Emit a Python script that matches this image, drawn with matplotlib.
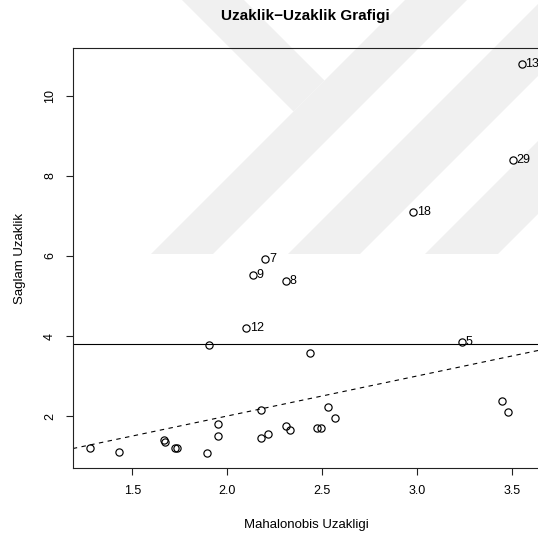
import matplotlib
matplotlib.use("Agg")
import matplotlib.pyplot as plt
from matplotlib.patches import Polygon
import numpy as np

plt.rcParams["font.family"] = ["Liberation Sans", "DejaVu Sans"]

# classical (Mahalanobis) vs robust distances, observations 1..30
mahal = [1.667, 1.895, 2.179, 1.428, 3.237, 1.951, 2.202, 2.311, 2.136, 1.738,
         2.473, 2.102, 3.553, 1.278, 2.533, 1.951, 3.449, 2.982, 1.672, 2.213,
         1.907, 2.309, 2.571, 1.727, 2.497, 2.177, 2.437, 3.481, 3.504, 2.334]
robust = [1.39, 1.08, 2.16, 1.09, 3.84, 1.80, 5.93, 5.38, 5.53, 1.19,
          1.70, 4.21, 10.80, 1.21, 2.22, 1.50, 2.37, 7.10, 1.34, 1.54,
          3.77, 1.75, 1.96, 1.19, 1.70, 1.44, 3.58, 2.11, 8.40, 1.66]
obs_ids = list(range(1, 31))
cutoff = 3.7947  # sqrt(qchisq(0.975, 6))

x_ticks = [1.5, 2.0, 2.5, 3.0, 3.5]
y_ticks = [2, 4, 6, 8, 10]

W, H = 538, 535
fig = plt.figure(figsize=(W / 100, H / 100), dpi=100)

# faint background watermark, drawn in pixel coordinates
bg = fig.add_axes([0, 0, 1, 1], zorder=0)
bg.set_xlim(0, W)
bg.set_ylim(H, 0)
bg.axis("off")
shapes = [
    [(182, 0), (244, 0), (324.5, 80.5), (293.5, 111.5)],
    [(151, 254), (213, 254), (467, 0), (405, 0)],
    [(288, 254), (360, 254), (614, 0), (542, 0)],
    [(425, 254), (498, 254), (752, 0), (679, 0)],
]
for pts in shapes:
    bg.add_patch(Polygon(pts, closed=True, facecolor="#f0f0f0", edgecolor="none"))

# plot region runs slightly past the right edge of the canvas
ax = fig.add_axes([72.8 / W, 1 - 468.4 / H, 466.3 / W, 420.0 / H], zorder=1)
ax.set_facecolor("none")

x = np.array(mahal)
y = np.array(robust)
# R-style 4% padding of the data range
xpad = 0.04 * (x.max() - x.min())
ypad = 0.04 * (y.max() - y.min())
ax.set_xlim(x.min() - xpad, x.max() + xpad)
ax.set_ylim(y.min() - ypad, y.max() + ypad)

ax.plot(x, y, linestyle="none", marker="o", markersize=5.2,
        markerfacecolor="none", markeredgecolor="black", markeredgewidth=0.85)

for xi, yi, oid in zip(x, y, obs_ids):
    if yi > cutoff:
        ax.annotate(str(oid), (xi, yi), xytext=(2.6, 0), textcoords="offset points",
                    ha="left", va="center", fontsize=9, annotation_clip=False)

ax.axhline(cutoff, color="black", linewidth=0.8)
xs = np.array(ax.get_xlim())
ax.plot(xs, xs, color="black", linewidth=0.8, linestyle=(0, (4, 4)))

for s in ax.spines.values():
    s.set_linewidth(0.8)
    s.set_color("#222222")

ax.set_xticks(x_ticks)
ax.set_xticklabels([f"{v:.1f}" for v in x_ticks])
ax.set_yticks(y_ticks)
ax.set_yticklabels([str(v) for v in y_ticks], rotation=90, va="center")
ax.tick_params(direction="out", length=5, width=0.8, labelsize=9, pad=7, color="#222222")

ax.set_xlabel("Mahalonobis Uzakligi", fontsize=9.5, labelpad=16)
ax.set_ylabel("Saglam Uzaklik", fontsize=9.5, labelpad=13)
fig.text(305.8 / W, 1 - 16 / H, "Uzaklik\u2212Uzaklik Grafigi", ha="center", va="center",
         fontsize=11, fontweight="bold")

fig.savefig("out.png", dpi=100)
